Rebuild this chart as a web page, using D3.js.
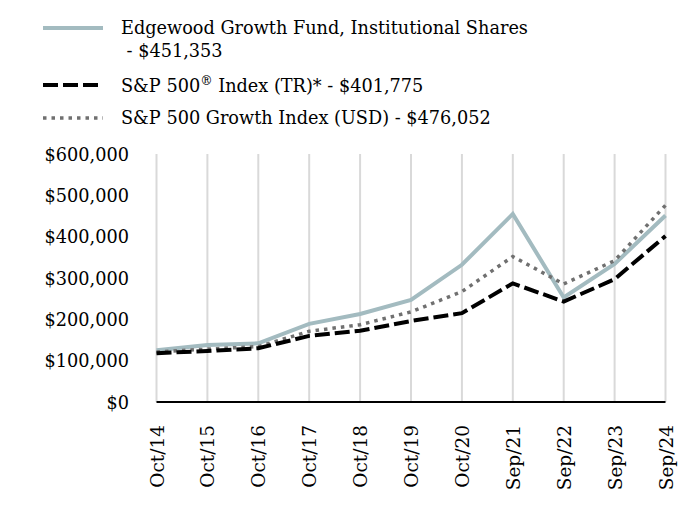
<!DOCTYPE html>
<html><head><meta charset="utf-8">
<script src="https://cdn.jsdelivr.net/npm/d3@7"></script>
<style>
html,body{margin:0;padding:0;background:#fff;}
svg{display:block;font-family:"DejaVu Serif",serif;}
</style></head>
<body><svg id="c" width="684" height="528"></svg>
<script>
const categories = ["Oct/14","Oct/15","Oct/16","Oct/17","Oct/18","Oct/19","Oct/20","Sep/21","Sep/22","Sep/23","Sep/24"];
const fundValues = [125000,138000,142000,189000,213000,247000,332000,455000,253000,334000,451353];
const sp500Values = [118000,123500,130000,160000,172500,196000,215000,287000,243000,297000,401775];
const growthValues = [121000,128000,134000,171000,187000,218000,267000,352000,285500,342000,476052];
const yTicks = [0,100000,200000,300000,400000,500000,600000];

const svg = d3.select("#c");
const FS = 17.7;
const XFS = 18.5;
const x = d3.scalePoint().domain(categories).range([156.5, 665.5]);
const y = d3.scaleLinear().domain([0,600000]).range([402,154]);

// vertical gridlines
svg.append("g").selectAll("line").data(categories).join("line")
  .attr("x1", d=>x(d)).attr("x2", d=>x(d))
  .attr("y1", y(600000)).attr("y2", y(0))
  .attr("stroke","#d9d9d9").attr("stroke-width",2);

// y axis labels
const yAxis = d3.axisLeft(y).tickValues(yTicks).tickSize(0).tickPadding(0).tickFormat(d3.format("$,"));
const ya = svg.append("g").attr("transform","translate(129,0)").call(yAxis);
ya.select(".domain").remove();
ya.selectAll("text").attr("font-size",FS).attr("font-family","DejaVu Serif").attr("fill","#000").attr("dy","0.35em");

// x axis labels
const xAxis = d3.axisBottom(x).tickSize(0).tickPadding(0);
const xa = svg.append("g").attr("transform","translate(0,402)").call(xAxis);
xa.select(".domain").remove();
xa.selectAll("text").attr("font-size",XFS).attr("font-family","DejaVu Serif").attr("fill","#000")
  .attr("text-anchor","end").attr("dy",null)
  .attr("transform","translate(0,23) rotate(-90)")
  .attr("y",0).attr("x",0).attr("dominant-baseline","central");

// baseline
svg.append("line").attr("x1",x(categories[0])).attr("x2",x(categories[categories.length-1]))
  .attr("y1",y(0)).attr("y2",y(0)).attr("stroke","#000").attr("stroke-width",2.2);

const line = d3.line().x((d,i)=>x(categories[i])).y(d=>y(d));
const styles = {
  fund:{color:"#a3bbc0",width:4,dash:null},
  sp:{color:"#000000",width:4,dash:"15,5"},
  growth:{color:"#707070",width:3.5,dash:"3.5,5"}
};
svg.append("path").datum(fundValues).attr("d",line).attr("fill","none")
  .attr("stroke",styles.fund.color).attr("stroke-width",styles.fund.width).attr("stroke-linejoin","miter");
svg.append("path").datum(growthValues).attr("d",line).attr("fill","none")
  .attr("stroke",styles.growth.color).attr("stroke-width",styles.growth.width).attr("stroke-dasharray",styles.growth.dash);
svg.append("path").datum(sp500Values).attr("d",line).attr("fill","none")
  .attr("stroke",styles.sp.color).attr("stroke-width",styles.sp.width).attr("stroke-dasharray",styles.sp.dash);

// legend
const lg = svg.append("g");
function sample(yy, s){
  lg.append("line").attr("x1",43).attr("x2",103).attr("y1",yy).attr("y2",yy)
    .attr("stroke",s.color).attr("stroke-width",s.width).attr("stroke-dasharray",s.dash);
}
sample(28, styles.fund);
sample(85, styles.sp);
sample(118, styles.growth);
function txt(xx, yy){
  return lg.append("text").attr("x",xx).attr("y",yy).attr("dominant-baseline","central")
    .attr("font-size",FS).attr("fill","#000");
}
txt(121,28).text("Edgewood Growth Fund, Institutional Shares");
txt(121,51).text("\u00a0- $451,353");
const t2 = txt(121,86);
t2.append("tspan").text("S&P 500");
t2.append("tspan").text("®").attr("font-size",FS*0.7).attr("dy",-6);
t2.append("tspan").text(" Index (TR)* - $401,775").attr("dy",6);
txt(121,118).text("S&P 500 Growth Index (USD) - $476,052");
</script></body></html>
